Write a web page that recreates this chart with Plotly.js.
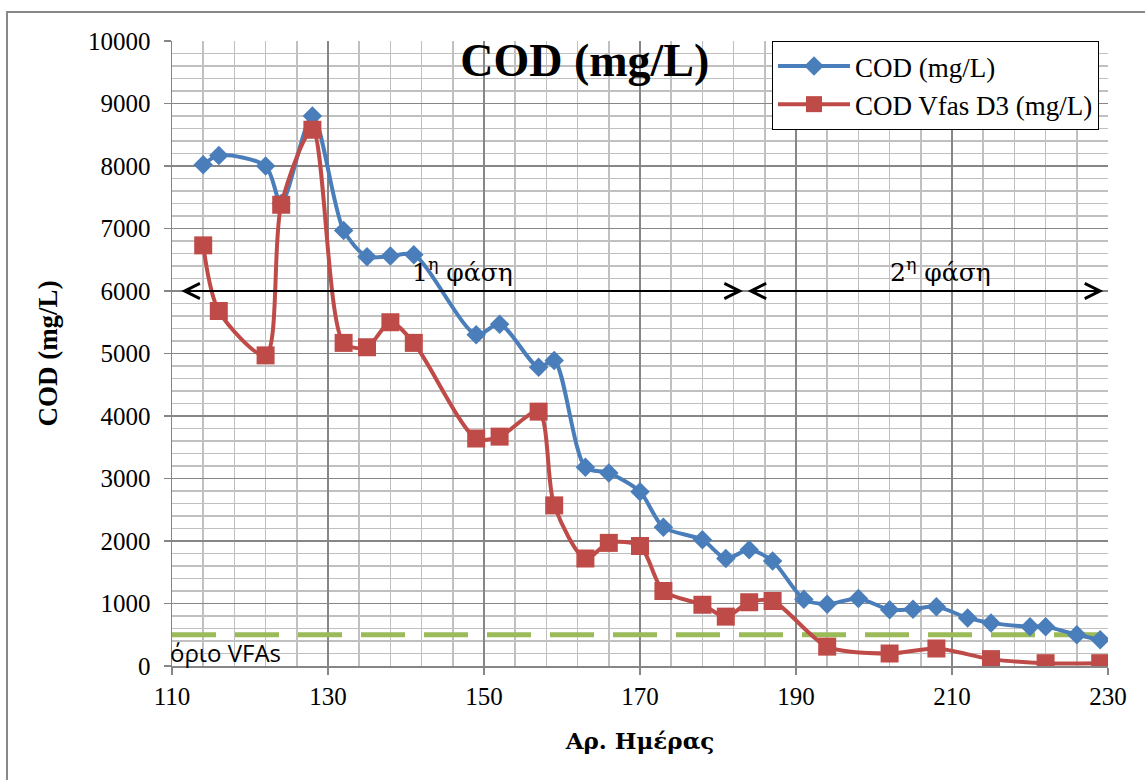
<!DOCTYPE html>
<html>
<head>
<meta charset="utf-8">
<script src="https://cdn.plot.ly/plotly-3.0.1.min.js"></script>
<style>html,body{margin:0;padding:0;background:#fff;}#chart{width:1145px;height:780px;}</style>
</head>
<body>
<div id="chart"></div>
<script>
// Days (x) and values
const daysCOD = [114,116,122,124,128,132,135,138,141,149,152,157,159,163,166,170,173,178,181,184,187,191,194,198,202,205,208,212,215,220,222,226,229];
const cod     = [8020,8170,8000,7400,8800,6970,6550,6560,6580,5300,5470,4780,4890,3180,3090,2790,2220,2020,1720,1860,1680,1070,990,1080,900,910,950,770,690,630,630,500,420];
const daysVFA = [114,116,122,124,128,132,135,138,141,149,152,157,159,163,166,170,173,178,181,184,187,194,202,208,215,222,229];
const codVFA  = [6730,5680,4970,7380,8580,5170,5100,5500,5170,3640,3670,4070,2570,1720,1970,1920,1200,980,790,1020,1040,310,200,280,110,45,45];
const limitX = [110, 230];
const limitY = [500, 500];
const seriesNames = ['COD (mg/L)', 'COD Vfas D3 (mg/L)'];
const phase1 = [111, 183.2];
const phase2 = [183.6, 229.4];
const phaseY = 6000;

const serif = 'Liberation Serif, DejaVu Serif, serif';
const greekSerif = 'DejaVu Serif, serif';

const traces = [
  {x: limitX, y: limitY, mode: 'lines', showlegend: false, hoverinfo: 'skip',
   line: {color: '#9BBB59', width: 5, dash: '44px,19px'}},
  {x: daysCOD, y: cod, name: seriesNames[0], mode: 'lines+markers',
   line: {color: '#4A7EBB', width: 4, shape: 'spline', smoothing: 0.8},
   marker: {symbol: 'diamond', size: 15, color: '#4A7EBB'}},
  {x: daysVFA, y: codVFA, name: seriesNames[1], mode: 'lines+markers',
   line: {color: '#BE4B48', width: 4, shape: 'spline', smoothing: 0.8},
   marker: {symbol: 'square', size: 18, color: '#BE4B48'}}
];

function arrow(a){
  return {x: a[1], y: phaseY, ax: a[0], ay: phaseY, xref: 'x', yref: 'y', axref: 'x', ayref: 'y',
    text: '', showarrow: true, arrowside: 'end+start', arrowhead: 5, startarrowhead: 5,
    arrowsize: 1.5, startarrowsize: 1.5, arrowwidth: 2, arrowcolor: '#000'};
}

const layout = {
  width: 1145, height: 780,
  margin: {l: 172, r: 37, t: 41, b: 114},
  paper_bgcolor: '#fff', plot_bgcolor: '#fff',
  showlegend: true,
  title: {text: '<b>COD (mg/L)</b>', font: {family: serif, size: 46, color: '#000'},
          xref: 'paper', x: 0.441, xanchor: 'center', yref: 'container', y: 1 - 60/780, yanchor: 'middle'},
  xaxis: {range: [110, 230], tick0: 110, dtick: 20, ticks: 'outside', ticklen: 7, tickcolor: '#868686', tickwidth: 1.5,
          showgrid: true, gridcolor: '#868686', gridwidth: 1.5,
          minor: {dtick: 4, tick0: 110, showgrid: true, gridcolor: '#C0C0C0', gridwidth: 1.5},
          showline: true, linecolor: '#868686', linewidth: 1.5, zeroline: false,
          tickfont: {family: serif, size: 25, color: '#000'},
          title: {text: '<b>Αρ. Ημέρας</b>', font: {family: greekSerif, size: 23, color: '#000'}, standoff: 24}},
  yaxis: {range: [0, 10000], dtick: 1000, tickformat: 'd', ticks: 'outside', ticklen: 7, tickcolor: '#868686', tickwidth: 1.5,
          showgrid: true, gridcolor: '#868686', gridwidth: 1.5,
          minor: {dtick: 200, showgrid: true, gridcolor: '#C0C0C0', gridwidth: 1.5},
          showline: true, linecolor: '#868686', linewidth: 1.5, zeroline: false,
          ticklabelstandoff: 8,
          tickfont: {family: serif, size: 25, color: '#000'},
          title: {text: '<b>COD (mg/L)</b>', font: {family: serif, size: 27, color: '#000'}, standoff: 22}},
  legend: {x: 0.641, y: 1, xanchor: 'left', yanchor: 'top', bgcolor: '#fff', bordercolor: '#000', borderwidth: 1,
           font: {family: serif, size: 27, color: '#000'}, itemwidth: 72, tracegroupgap: 0},
  shapes: [
    {type: 'rect', xref: 'paper', yref: 'paper', x0: -0.1763, x1: 1.045, y0: -0.198, y1: 1.0464,
     line: {color: '#888888', width: 2}, fillcolor: 'rgba(0,0,0,0)'}
  ],
  annotations: [
    arrow(phase1), arrow(phase2),
    {x: 147.2, y: 6330, xref: 'x', yref: 'y', text: '1<sup>η</sup> φάση', showarrow: false,
     font: {family: greekSerif, size: 25, color: '#000'}},
    {x: 208.5, y: 6330, xref: 'x', yref: 'y', text: '2<sup>η</sup> φάση', showarrow: false,
     font: {family: greekSerif, size: 25, color: '#000'}},
    {x: -0.004, y: 224, xref: 'paper', yref: 'y', xanchor: 'left', yanchor: 'middle', text: 'όριο VFAs', showarrow: false,
     font: {family: 'Open Sans, sans-serif', size: 24, color: '#000'}}
  ]
};

Plotly.newPlot('chart', traces, layout, {displayModeBar: false, staticPlot: true});
</script>
</body>
</html>
